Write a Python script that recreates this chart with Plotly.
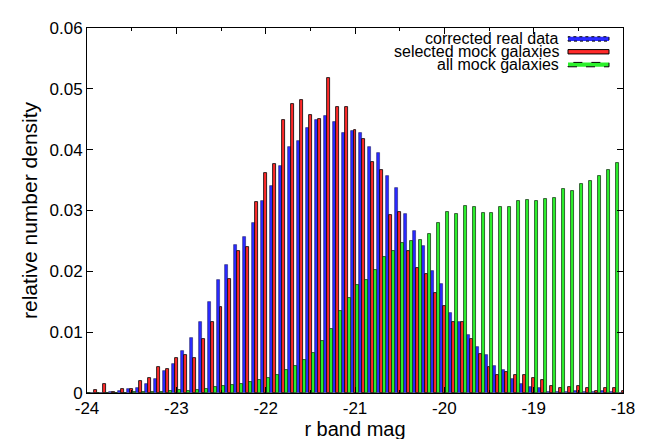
import plotly.graph_objects as go

# bin centres (r band magnitude, 0.1 mag bins)
mag_bins = [-24.0, -23.9, -23.8, -23.7, -23.6, -23.5, -23.4, -23.3, -23.2, -23.1,
            -23.0, -22.9, -22.8, -22.7, -22.6, -22.5, -22.4, -22.3, -22.2, -22.1,
            -22.0, -21.9, -21.8, -21.7, -21.6, -21.5, -21.4, -21.3, -21.2, -21.1,
            -21.0, -20.9, -20.8, -20.7, -20.6, -20.5, -20.4, -20.3, -20.2, -20.1,
            -20.0, -19.9, -19.8, -19.7, -19.6, -19.5, -19.4, -19.3, -19.2, -19.1,
            -19.0, -18.9, -18.8, -18.7, -18.6, -18.5, -18.4, -18.3, -18.2, -18.1,
            -18.0]

corrected_real = [0, 0, 0, 0.0001, 0.0003, 0.0006, 0.0009, 0.0015, 0.0023, 0.0036,
                  0.0048, 0.0069, 0.0090, 0.0116, 0.0150, 0.0185, 0.0211, 0.0243, 0.0257, 0.0280,
                  0.0315, 0.0340, 0.0373, 0.0405, 0.0414, 0.0436, 0.0449, 0.0455, 0.0445, 0.0428,
                  0.0430, 0.0427, 0.0405, 0.0394, 0.0356, 0.0337, 0.0295, 0.0267, 0.0241, 0.0200,
                  0.0180, 0.0131, 0.0117, 0.0095, 0.0076, 0.0063, 0.0045, 0.0038, 0.0023, 0.0014,
                  0.0010, 0.0008, 0.0002, 0.0001, 0.0002, 0.0003, 0.0001, 0.0001, 0.0004, 0.0001,
                  0]

selected_mock = [0, 0.0005, 0.0014, 0.0001, 0.0007, 0.0007, 0.0020, 0.0025, 0.0042, 0.0040,
                 0.0057, 0.0062, 0.0058, 0.0089, 0.0117, 0.0141, 0.0188, 0.0233, 0.0240, 0.0314,
                 0.0361, 0.0376, 0.0449, 0.0475, 0.0481, 0.0457, 0.0450, 0.0517, 0.0470, 0.0470,
                 0.0432, 0.0417, 0.0380, 0.0366, 0.0293, 0.0297, 0.0234, 0.0206, 0.0195, 0.0165,
                 0.0143, 0.0116, 0.0116, 0.0089, 0.0064, 0.0042, 0.0030, 0.0035, 0.0030, 0.0030,
                 0.0025, 0.0021, 0.0011, 0.0008, 0.0010, 0.0012, 0.0009, 0.0004, 0.0009, 0.0009,
                 0.0004]

all_mock = [0, 0, 0, 0, 0, 0.0001, 0.0001, 0.0002, 0.0002, 0.0003,
            0.0005, 0.0004, 0.0005, 0.0007, 0.0010, 0.0011, 0.0013, 0.0015, 0.0018, 0.0021,
            0.0025, 0.0030, 0.0037, 0.0045, 0.0055, 0.0065, 0.0085, 0.0105, 0.0134, 0.0156,
            0.0177, 0.0185, 0.0202, 0.0223, 0.0234, 0.0246, 0.0250, 0.0252, 0.0262, 0.0280,
            0.0298, 0.0295, 0.0308, 0.0306, 0.0296, 0.0296, 0.0305, 0.0306, 0.0316, 0.0317,
            0.0315, 0.0319, 0.0321, 0.0335, 0.0332, 0.0344, 0.0349, 0.0357, 0.0366, 0.0378,
            0.0380]

series_names = ["corrected real data", "selected mock galaxies", "all mock galaxies"]
x_tick_vals = [-24, -23, -22, -21, -20, -19, -18]
x_tick_text = ["-24", "-23", "-22", "-21", "-20", "-19", "-18"]
y_tick_vals = [0, 0.01, 0.02, 0.03, 0.04, 0.05, 0.06]
y_tick_text = ["0", "0.01", "0.02", "0.03", "0.04", "0.05", "0.06"]

W, H = 651, 439
L, R, T, B = 79, 615, 11, 395

BLUE = "#2a2aff"
RED = "#ff2a2a"
GREEN = "#2cf02c"

bw = 0.1 / 3.0
fig = go.Figure()
styles = [
    (corrected_real, BLUE, "rgba(0,0,60,0.55)", 0.8, -1.5 * bw),
    (selected_mock, RED, "#000000", 0.8, -0.5 * bw),
    (all_mock, GREEN, "rgba(0,30,0,0.75)", 0.9, 0.5 * bw),
]
for name, (vals, col, lcol, lw, off) in zip(series_names, styles):
    fig.add_trace(go.Bar(
        x=mag_bins, y=vals, name=name, width=bw, offset=off,
        marker=dict(color=col, line=dict(color=lcol, width=lw)),
        showlegend=False,
    ))

FONT = "Liberation Sans, Arial, sans-serif"

def px_x(px):
    return (px - L) / (R - L)

def px_y(py):
    return (B - py) / (B - T)

# hand-built legend (text right-aligned, swatch on the right)
leg_rows = [22.5, 36.0, 49.5]
leg_dash = ["dot", "solid", "dash"]
leg_cols = [BLUE, RED, GREEN]
shapes = []
annotations = []
for name, yy, dash, col in zip(series_names, leg_rows, leg_dash, leg_cols):
    annotations.append(dict(
        x=px_x(553), y=px_y(yy), xref="paper", yref="paper",
        text=name, showarrow=False, xanchor="right", yanchor="middle",
        font=dict(family=FONT, size=16, color="black"),
    ))
    shapes.append(dict(
        type="rect", xref="paper", yref="paper",
        x0=px_x(560), x1=px_x(601), y0=px_y(yy + 2.3), y1=px_y(yy - 2.3),
        fillcolor=col, line=dict(color="black", width=1, dash=dash),
    ))

fig.update_layout(
    width=W, height=H,
    margin=dict(l=L, r=W - R, t=T, b=H - B, pad=0),
    paper_bgcolor="white", plot_bgcolor="white",
    barmode="overlay", bargap=0,
    showlegend=False,
    shapes=shapes, annotations=annotations,
    font=dict(family=FONT, size=17, color="black"),
    xaxis=dict(
        range=[-24, -18], tickvals=x_tick_vals, ticktext=x_tick_text,
        showline=True, linecolor="black", linewidth=1, mirror="ticks",
        ticks="inside", ticklen=6, tickcolor="black", showgrid=False, zeroline=False,
        tickfont=dict(family=FONT, size=17),
        minor=dict(dtick=0.5, tick0=-24, ticks="inside", ticklen=3, tickcolor="black", showgrid=False),
        title=dict(text="r band mag", font=dict(family=FONT, size=20), standoff=4),
    ),
    yaxis=dict(
        range=[0, 0.06], tickvals=y_tick_vals, ticktext=y_tick_text,
        showline=True, linecolor="black", linewidth=1, mirror="ticks",
        ticks="inside", ticklen=6, tickcolor="black", showgrid=False, zeroline=False,
        tickfont=dict(family=FONT, size=17),
        title=dict(text="relative number density", font=dict(family=FONT, size=21), standoff=6),
    ),
)

fig.write_html("out.html")
